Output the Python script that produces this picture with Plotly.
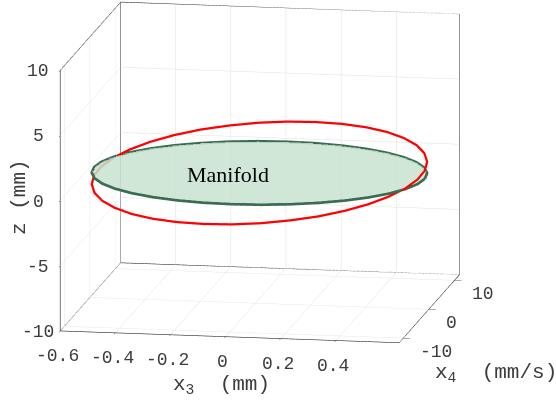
import plotly.graph_objects as go

# Axis ranges and ticks
x3_range = [-0.6, 0.63]
x4_range = [-11.6, 12.0]
z_range = [-10, 10]
x3_ticks = [-0.6, -0.4, -0.2, 0, 0.2, 0.4]
x3_ticktext = ["-0.6", "-0.4", "-0.2", "0", "0.2", "0.4"]
x4_ticks = [-10, 0, 10]
x4_ticktext = ["-10", "0", "10"]
z_ticks = [-10, -5, 0, 5, 10]
z_ticktext = ["-10", "-5", "0", "5", "10"]

# Red closed orbit (x3 [mm], x4 [mm/s], z [mm])
orbit_x3 = [0.615, 0.606, 0.579, 0.535, 0.475, 0.401, 0.315, 0.220, 0.119, 0.015,
            -0.089, -0.190, -0.285, -0.371, -0.445, -0.505, -0.549, -0.576, -0.585,
            -0.576, -0.549, -0.505, -0.445, -0.371, -0.285, -0.190, -0.089, 0.015,
            0.119, 0.220, 0.315, 0.401, 0.475, 0.535, 0.579, 0.606, 0.615]
orbit_x4 = [0.00, 1.88, 3.69, 5.40, 6.94, 8.27, 9.35, 10.15, 10.64, 10.80,
            10.64, 10.15, 9.35, 8.27, 6.94, 5.40, 3.69, 1.88, 0.00,
            -1.88, -3.69, -5.40, -6.94, -8.27, -9.35, -10.15, -10.64, -10.80,
            -10.64, -10.15, -9.35, -8.27, -6.94, -5.40, -3.69, -1.88, 0.00]
orbit_z = [0.62, 0.88, 1.12, 1.32, 1.48, 1.60, 1.66, 1.67, 1.63, 1.55,
           1.42, 1.24, 1.04, 0.79, 0.52, 0.23, -0.06, -0.35, -0.62,
           -0.88, -1.12, -1.32, -1.48, -1.60, -1.66, -1.67, -1.63, -1.55,
           -1.42, -1.24, -1.04, -0.79, -0.52, -0.23, 0.06, 0.35, 0.62]

# Manifold boundary (flat disc at z = 0)
manifold_x3 = [0.615, 0.606, 0.579, 0.535, 0.475, 0.401, 0.315, 0.220, 0.119, 0.015,
               -0.089, -0.190, -0.285, -0.371, -0.445, -0.505, -0.549, -0.576, -0.585,
               -0.576, -0.549, -0.505, -0.445, -0.371, -0.285, -0.190, -0.089, 0.015,
               0.119, 0.220, 0.315, 0.401, 0.475, 0.535, 0.579, 0.606, 0.615]
manifold_x4 = [0.00, 1.88, 3.69, 5.40, 6.94, 8.27, 9.35, 10.15, 10.64, 10.80,
               10.64, 10.15, 9.35, 8.27, 6.94, 5.40, 3.69, 1.88, 0.00,
               -1.88, -3.69, -5.40, -6.94, -8.27, -9.35, -10.15, -10.64, -10.80,
               -10.64, -10.15, -9.35, -8.27, -6.94, -5.40, -3.69, -1.88, 0.00]
manifold_z = [0.0] * len(manifold_x3)
manifold_center = [0.015, 0.0, 0.0]

# Styles
RED = "rgb(255,0,0)"
GREEN_EDGE = "rgb(58,108,82)"
GREEN_FILL = "rgb(200,226,207)"
AXIS_COLOR = "rgb(38,38,38)"
GRID_COLOR = "rgb(224,224,224)"
TEXT_COLOR = "rgb(60,60,60)"
MONO = "Liberation Mono, Courier New, monospace"

fig = go.Figure()

# Manifold filled disc (triangle fan)
n = len(manifold_x3) - 1
mx = manifold_x3[:n] + [manifold_center[0]]
my = manifold_x4[:n] + [manifold_center[1]]
mz = manifold_z[:n] + [manifold_center[2]]
fig.add_trace(go.Mesh3d(
    x=mx, y=my, z=mz,
    i=[n] * n, j=list(range(n)), k=[(q + 1) % n for q in range(n)],
    color=GREEN_FILL, opacity=0.85, flatshading=True,
    lighting=dict(ambient=1.0, diffuse=0.0, specular=0.0, roughness=1.0, fresnel=0.0),
    hoverinfo="skip", showscale=False,
))

# Box edges (MATLAB-like back walls)
X0, X1 = x3_range
Y0, Y1 = x4_range
Z0, Z1 = z_range
edges = [
    ((X0, Y0, Z0), (X1, Y0, Z0)),
    ((X1, Y0, Z0), (X1, Y1, Z0)),
    ((X0, Y0, Z0), (X0, Y0, Z1)),
    ((X0, Y0, Z0), (X0, Y1, Z0)),
    ((X0, Y1, Z0), (X1, Y1, Z0)),
    ((X0, Y1, Z0), (X0, Y1, Z1)),
    ((X1, Y1, Z0), (X1, Y1, Z1)),
    ((X0, Y1, Z1), (X1, Y1, Z1)),
    ((X0, Y0, Z1), (X0, Y1, Z1)),
]
ex, ey, ez = [], [], []
for a, b in edges:
    ex += [a[0], b[0], None]
    ey += [a[1], b[1], None]
    ez += [a[2], b[2], None]
fig.add_trace(go.Scatter3d(x=ex, y=ey, z=ez, mode="lines",
                           line=dict(color=AXIS_COLOR, width=1.2),
                           hoverinfo="skip", showlegend=False))

# Manifold edge
fig.add_trace(go.Scatter3d(x=manifold_x3, y=manifold_x4, z=manifold_z, mode="lines",
                           line=dict(color=GREEN_EDGE, width=5.5),
                           hoverinfo="skip", showlegend=False))

# Red orbit
fig.add_trace(go.Scatter3d(x=orbit_x3, y=orbit_x4, z=orbit_z, mode="lines",
                           line=dict(color=RED, width=4.5),
                           hoverinfo="skip", showlegend=False))


def axis(rng, tv):
    return dict(range=rng, tickvals=tv, autorange=False,
                showgrid=True, gridcolor=GRID_COLOR, gridwidth=1,
                showbackground=False, zeroline=False,
                showline=True, linecolor=AXIS_COLOR, linewidth=1,
                showspikes=False, ticks="outside", ticklen=7, tickwidth=1, tickcolor=AXIS_COLOR,
                showticklabels=False, title=dict(text=""))


tick_font = dict(family=MONO, size=18, color=TEXT_COLOR)
scene_ann = []
for v, t in zip(x3_ticks, x3_ticktext):
    scene_ann.append(dict(x=v, y=Y0, z=Z0, text=t, showarrow=False, xanchor="center",
                          yanchor="middle", xshift=-3, yshift=-25, font=tick_font))
for v, t in zip(x4_ticks, x4_ticktext):
    scene_ann.append(dict(x=X1, y=v, z=Z0, text=t, showarrow=False, xanchor="left",
                          yanchor="middle", xshift=15, yshift=-14, font=tick_font))
for v, t in zip(z_ticks, z_ticktext):
    scene_ann.append(dict(x=X0, y=Y0, z=v, text=t, showarrow=False, xanchor="center",
                          yanchor="middle", xshift=-22, yshift=-1, font=tick_font))

K = 1.32
eye = [0.1695 * 2, -0.9654 * 2, 0.1981 * 2]
shift = [0.0932, -0.0127, -0.1415]
title_font = dict(family=MONO, size=21, color=TEXT_COLOR)
fig.update_layout(
    width=556, height=403,
    margin=dict(l=0, r=0, t=0, b=0),
    paper_bgcolor="white",
    showlegend=False,
    scene=dict(
        domain=dict(x=[0.0, 1.0], y=[0.0, 1.0]),
        xaxis=axis(x3_range, x3_ticks),
        yaxis=axis(x4_range, x4_ticks),
        zaxis=axis(z_range, z_ticks),
        aspectmode="manual",
        aspectratio=dict(x=1.294 * K, y=1.313 * K, z=1.0 * K),
        camera=dict(eye=dict(x=eye[0] + shift[0], y=eye[1] + shift[1], z=eye[2] + shift[2]),
                    center=dict(x=shift[0], y=shift[1], z=shift[2]), up=dict(x=0, y=0, z=1),
                    projection=dict(type="orthographic")),
        bgcolor="white",
        annotations=scene_ann,
    ),
    annotations=[
        dict(text="Manifold", x=228 / 556, y=1 - 174 / 403, xref="paper", yref="paper",
             xanchor="center", yanchor="middle", showarrow=False,
             font=dict(family="Liberation Serif, Times New Roman, serif", size=22, color="black")),
        dict(text="z\u00a0(mm)", x=19 / 556, y=1 - 197 / 403, xref="paper", yref="paper",
             xanchor="center", yanchor="middle", showarrow=False, textangle=-90, font=title_font),
        dict(text="x<sub>3</sub>\u00a0\u00a0(mm)", x=221 / 556, y=1 - 385 / 403, xref="paper", yref="paper",
             xanchor="center", yanchor="middle", showarrow=False, font=title_font),
        dict(text="x<sub>4</sub>\u00a0\u00a0(mm/s)", x=496 / 556, y=1 - 373 / 403, xref="paper", yref="paper",
             xanchor="center", yanchor="middle", showarrow=False, font=title_font),
    ],
)

fig.write_html("out.html")
